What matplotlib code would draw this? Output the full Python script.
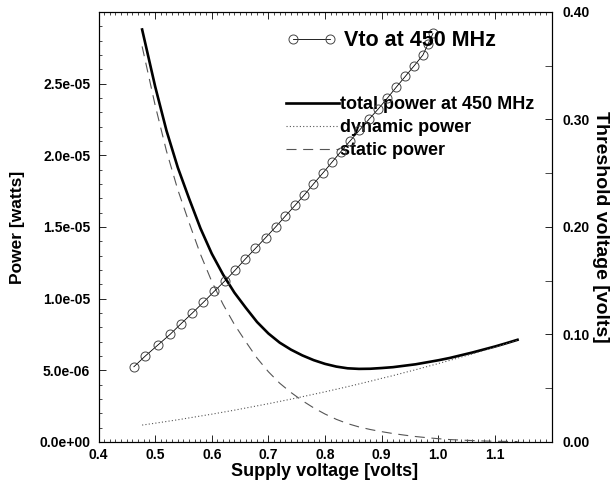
import matplotlib
matplotlib.use("Agg")
import matplotlib.pyplot as plt
from matplotlib.ticker import MultipleLocator, FuncFormatter

plt.rcParams["font.family"] = ["Liberation Sans", "DejaVu Sans"]
plt.rcParams["font.weight"] = "bold"

# power curves (supply voltage in volts, power in microwatts)
vdd = [0.477, 0.50, 0.52, 0.54, 0.56, 0.58, 0.60, 0.62, 0.64, 0.66, 0.68, 0.70,
       0.72, 0.74, 0.76, 0.78, 0.80, 0.82, 0.84, 0.86, 0.88, 0.90, 0.92, 0.94,
       0.96, 0.98, 1.00, 1.02, 1.04, 1.06, 1.08, 1.10, 1.12, 1.14]
static_uw = [27.6, 23.5, 20.3, 17.6, 15.3, 13.1, 11.2, 9.6, 8.2, 7.0, 5.85, 4.9,
             4.1, 3.45, 2.88, 2.38, 1.95, 1.58, 1.28, 1.05, 0.87, 0.72, 0.59, 0.48,
             0.38, 0.30, 0.23, 0.17, 0.13, 0.10, 0.07, 0.05, 0.04, 0.03]
dynamic_uw = [1.18, 1.31, 1.43, 1.55, 1.68, 1.81, 1.94, 2.08, 2.22, 2.37, 2.52, 2.67,
              2.83, 2.99, 3.16, 3.33, 3.50, 3.68, 3.86, 4.05, 4.24, 4.44, 4.63, 4.84,
              5.04, 5.26, 5.47, 5.69, 5.92, 6.14, 6.38, 6.61, 6.85, 7.10]
total_uw = [28.78, 24.81, 21.73, 19.15, 16.98, 14.91, 13.14, 11.68, 10.42, 9.37, 8.37, 7.57,
            6.93, 6.44, 6.04, 5.71, 5.45, 5.26, 5.14, 5.10, 5.11, 5.16, 5.22, 5.32,
            5.42, 5.56, 5.70, 5.86, 6.05, 6.24, 6.45, 6.66, 6.89, 7.13]

# threshold voltage vs supply voltage at 450 MHz
vto_vdd = [0.4625, 0.4827, 0.5044, 0.5262, 0.5457, 0.5658, 0.5853, 0.6041,
           0.6235, 0.6416, 0.6589, 0.6770, 0.6950, 0.7127, 0.7297, 0.7469,
           0.7637, 0.7796, 0.7959, 0.8119, 0.8278, 0.8442, 0.8607, 0.8773,
           0.8943, 0.9103, 0.9257, 0.9416, 0.9575, 0.9729, 0.9818, 0.9906]
vto = [0.07, 0.08, 0.09, 0.10, 0.11, 0.12, 0.13, 0.14, 0.15, 0.16, 0.17, 0.18,
       0.19, 0.20, 0.21, 0.22, 0.23, 0.24, 0.25, 0.26, 0.27, 0.28, 0.29, 0.30,
       0.31, 0.32, 0.33, 0.34, 0.35, 0.36, 0.37, 0.38]

fig = plt.figure(figsize=(6.13, 4.8), dpi=100)
ax = fig.add_axes([0.1607, 0.0792, 0.7390, 0.8958])
ax2 = ax.twinx()

to_w = lambda vals: [v * 1e-6 for v in vals]
ax.plot(vdd, to_w(total_uw), color="black", lw=1.9, label="total power at 450 MHz")
ax.plot(vdd, to_w(dynamic_uw), color="#555555", lw=0.8, ls=(0, (1, 2)), label="dynamic power")
ax.plot(vdd, to_w(static_uw), color="#555555", lw=0.8, ls=(0, (9, 6)), label="static power")

ax2.plot(vto_vdd, vto, color="black", lw=0.6, marker="o", ms=6.5, mfc="none",
         mec="#444444", mew=0.7, label="Vto at 450 MHz")

ax.set_xlim(0.4, 1.2)
ax.set_ylim(0, 3.0e-5)
ax2.set_ylim(0, 0.4)

ax.set_xticks([0.4, 0.5, 0.6, 0.7, 0.8, 0.9, 1.0, 1.1])
ax.xaxis.set_minor_locator(MultipleLocator(0.01))
ax.set_yticks([0, 5e-6, 1e-5, 1.5e-5, 2e-5, 2.5e-5])
ax.yaxis.set_minor_locator(MultipleLocator(1e-6))
ax.yaxis.set_major_formatter(FuncFormatter(lambda v, p: "%.1e" % v))
ax2.set_yticks([0, 0.1, 0.2, 0.3, 0.4])
ax2.yaxis.set_minor_locator(MultipleLocator(0.05))
ax2.yaxis.set_major_formatter(FuncFormatter(lambda v, p: "%.2f" % v))

ax.tick_params(axis="x", which="both", direction="in", top=True, labelsize=10, pad=4)
ax.tick_params(axis="y", which="both", direction="in", labelsize=10, pad=6)
ax.tick_params(which="major", length=5, width=0.6)
ax.tick_params(which="minor", length=2.5, width=0.5)
ax2.tick_params(axis="y", which="both", direction="in", labelsize=10, pad=8)
ax2.tick_params(which="major", length=5, width=0.6)
ax2.tick_params(which="minor", length=5, width=0.5)
for a in (ax, ax2):
    for s in a.spines.values():
        s.set_linewidth(0.8)

ax.set_xlabel("Supply voltage [volts]", fontsize=13, fontweight="bold", labelpad=1)
ax.set_ylabel("Power [watts]", fontsize=12.5, fontweight="bold", labelpad=10)
ax2.set_ylabel("Threshold voltage [volts]", fontsize=14, fontweight="bold",
               rotation=270, labelpad=14)

leg2 = ax2.legend(loc="upper left", bbox_to_anchor=(0.468, 0.937), bbox_transform=fig.transFigure,
                  frameon=False, numpoints=2, handlelength=2.3, handletextpad=0.37,
                  borderpad=0, borderaxespad=0, prop={"size": 15.5, "weight": "bold"})
leg1 = ax.legend(loc="upper left", bbox_to_anchor=(0.466, 0.799), bbox_transform=fig.transFigure,
                 frameon=False, handlelength=2.93, handletextpad=0.1, labelspacing=0.33,
                 borderpad=0, borderaxespad=0, prop={"size": 13, "weight": "bold"})

fig.savefig("out.png", dpi=100)
